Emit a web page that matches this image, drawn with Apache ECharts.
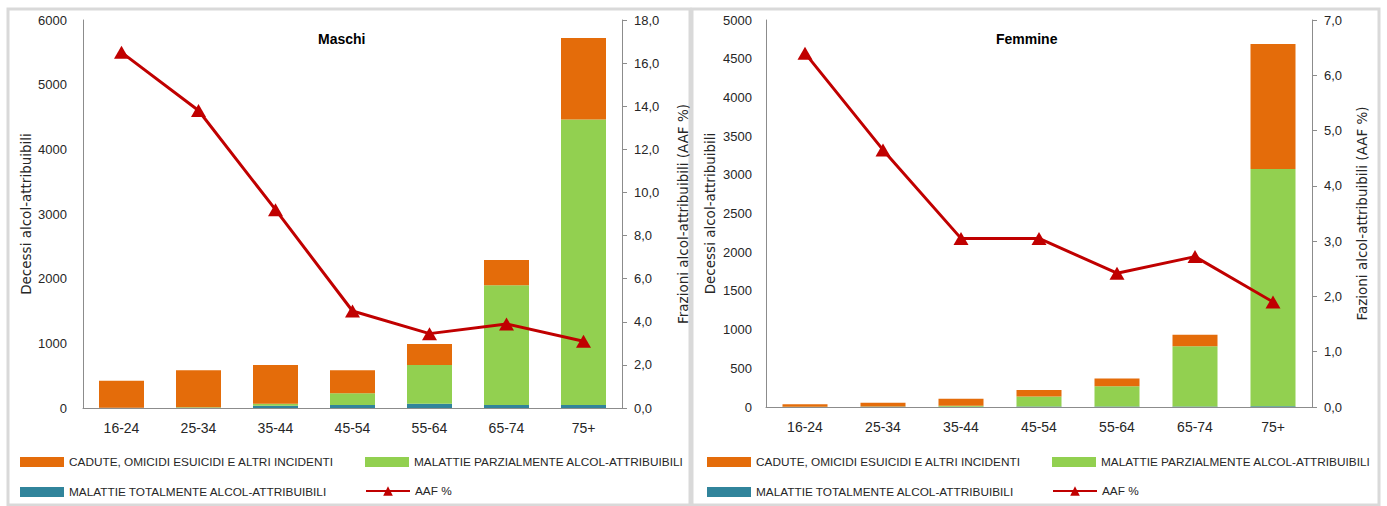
<!DOCTYPE html>
<html>
<head>
<meta charset="utf-8">
<script src="https://cdn.jsdelivr.net/npm/echarts@6/dist/echarts.min.js"></script>
<style>
  html, body { margin: 0; padding: 0; background: #ffffff; }
  #chart { width: 1387px; height: 506px; }
</style>
</head>
<body>
<div id="chart"></div>
<script>
// Age classes shared by both panels
const ageGroups = ['16-24', '25-34', '35-44', '45-54', '55-64', '65-74', '75+'];

// Series names (legend labels)
const nameAccidents = 'CADUTE, OMICIDI ESUICIDI E ALTRI INCIDENTI';
const namePartial = 'MALATTIE PARZIALMENTE ALCOL-ATTRIBUIBILI';
const nameTotal = 'MALATTIE TOTALMENTE ALCOL-ATTRIBUIBILI';
const nameAaf = 'AAF %';

// Men: alcohol-attributable deaths by cause group, and AAF %
const maleTotal = [2, 5, 35, 45, 65, 45, 45];
const malePartial = [3, 5, 30, 185, 600, 1855, 4415];
const maleAccidents = [415, 575, 600, 355, 325, 390, 1260];
const maleAaf = [16.5, 13.8, 9.2, 4.5, 3.45, 3.9, 3.1];

// Women: alcohol-attributable deaths by cause group, and AAF %
const femaleTotal = [1, 2, 3, 5, 5, 8, 10];
const femalePartial = [3, 5, 14, 131, 262, 776, 3065];
const femaleAccidents = [31, 48, 89, 84, 102, 148, 1615];
const femaleAaf = [6.4, 4.65, 3.05, 3.05, 2.42, 2.72, 1.9];

// Panel titles and axis names
const panelTitles = ['Maschi', 'Femmine'];
const leftAxisName = 'Decessi alcol-attribuibili';
const rightAxisNames = ['Frazioni alcol-attribuibili (AAF %)', 'Fazioni alcol-attribuibili (AAF %)'];

const FONT = '"Liberation Sans", Arial, sans-serif';
const NAME_FONT = '"DejaVu Sans", "Liberation Sans", sans-serif';
const TXT = '#262626';
const AXIS = '#8c8c8c';
const C_ORANGE = '#E46C0A';
const C_GREEN = '#92D050';
const C_TEAL = '#31849B';
const C_RED = '#C00000';

const comma1 = v => v.toFixed(1).replace('.', ',');
const plain = v => String(v);

function catAxis(gridIndex) {
  return {
    type: 'category', gridIndex, data: ageGroups,
    axisLine: { lineStyle: { color: AXIS, width: 1 } },
    axisTick: { show: false },
    axisLabel: { fontSize: 14, fontFamily: FONT, color: TXT, margin: 13 }
  };
}

function countAxis(gridIndex, max, interval, gap, labelMargin) {
  return {
    type: 'value', gridIndex, position: 'left', min: 0, max, interval,
    splitLine: { show: false },
    axisLine: { show: true, lineStyle: { color: AXIS } },
    axisTick: { show: false },
    axisLabel: { fontSize: 13, fontFamily: FONT, color: TXT, margin: labelMargin, formatter: plain },
    name: leftAxisName, nameLocation: 'middle', nameRotate: 90, nameGap: gap,
    nameTextStyle: { fontSize: 13.5, fontFamily: NAME_FONT, color: TXT }
  };
}

function pctAxis(gridIndex, max, interval, gap, name) {
  return {
    type: 'value', gridIndex, position: 'right', min: 0, max, interval,
    splitLine: { show: false },
    axisLine: { show: true, lineStyle: { color: AXIS } },
    axisTick: { show: true, length: 5, inside: false, lineStyle: { color: AXIS } },
    axisLabel: { fontSize: 13, fontFamily: FONT, color: TXT, margin: 12, formatter: comma1 },
    name, nameLocation: 'middle', nameRotate: 90, nameGap: gap,
    nameTextStyle: { fontSize: 13.5, fontFamily: NAME_FONT, color: TXT }
  };
}

function panelSeries(idx, total, partial, accidents, aaf) {
  const stack = 'deaths' + idx;
  const bar = (name, data, color) => ({
    type: 'bar', name, data, stack, barWidth: 45,
    xAxisIndex: idx, yAxisIndex: idx * 2,
    itemStyle: { color }, emphasis: { disabled: true }
  });
  return [
    bar(nameTotal, total, C_TEAL),
    bar(namePartial, partial, C_GREEN),
    bar(nameAccidents, accidents, C_ORANGE),
    {
      type: 'line', name: nameAaf, data: aaf,
      xAxisIndex: idx, yAxisIndex: idx * 2 + 1,
      symbol: 'triangle', symbolSize: [15, 13],
      lineStyle: { color: C_RED, width: 3 },
      itemStyle: { color: C_RED },
      emphasis: { disabled: true }, z: 5
    }
  ];
}

function legendItem(name, left, top, isLine) {
  const item = {
    data: [name], left, top, orient: 'horizontal', padding: 0,
    itemWidth: 44, itemHeight: isLine ? 12 : 10, itemGap: 0,
    selectedMode: false,
    textStyle: { fontSize: 11.8, fontFamily: FONT, color: TXT, padding: [0, 0, 0, 0] }
  };
  if (!isLine) item.icon = 'rect';
  return item;
}

const legends = [];
[[20, 365], [707, 1052]].forEach(([a, b]) => {
  legends.push(legendItem(nameAccidents, a, 456, false));
  legends.push(legendItem(namePartial, b, 456, false));
  legends.push(legendItem(nameTotal, a, 486, false));
  legends.push(legendItem(nameAaf, b, 485, true));
});

const chart = echarts.init(document.getElementById('chart'), null, { renderer: 'svg' });

chart.setOption({
  animation: false,
  backgroundColor: '#ffffff',
  textStyle: { fontFamily: FONT },
  title: [
    { text: panelTitles[0], left: 318, top: 32, padding: 0,
      textStyle: { fontSize: 14, fontWeight: 'bold', fontFamily: FONT, color: '#000' } },
    { text: panelTitles[1], left: 996, top: 32, padding: 0,
      textStyle: { fontSize: 14, fontWeight: 'bold', fontFamily: FONT, color: '#000' } }
  ],
  graphic: [
    { type: 'rect', shape: { x: 8, y: 9, width: 682, height: 496 },
      style: { fill: 'none', stroke: '#d9d9d9', lineWidth: 3 }, silent: true },
    { type: 'rect', shape: { x: 692, y: 9, width: 687, height: 496 },
      style: { fill: 'none', stroke: '#d9d9d9', lineWidth: 3 }, silent: true }
  ],
  legend: legends,
  grid: [
    { left: 83, top: 20, width: 539, height: 388 },
    { left: 766, top: 20, width: 546, height: 387 }
  ],
  xAxis: [catAxis(0), catAxis(1)],
  yAxis: [
    countAxis(0, 6000, 1000, 50, 16),
    pctAxis(0, 18, 2, 54, rightAxisNames[0]),
    countAxis(1, 5000, 500, 49, 14),
    pctAxis(1, 7, 1, 43, rightAxisNames[1])
  ],
  series: [
    ...panelSeries(0, maleTotal, malePartial, maleAccidents, maleAaf),
    ...panelSeries(1, femaleTotal, femalePartial, femaleAccidents, femaleAaf)
  ]
});
</script>
</body>
</html>
